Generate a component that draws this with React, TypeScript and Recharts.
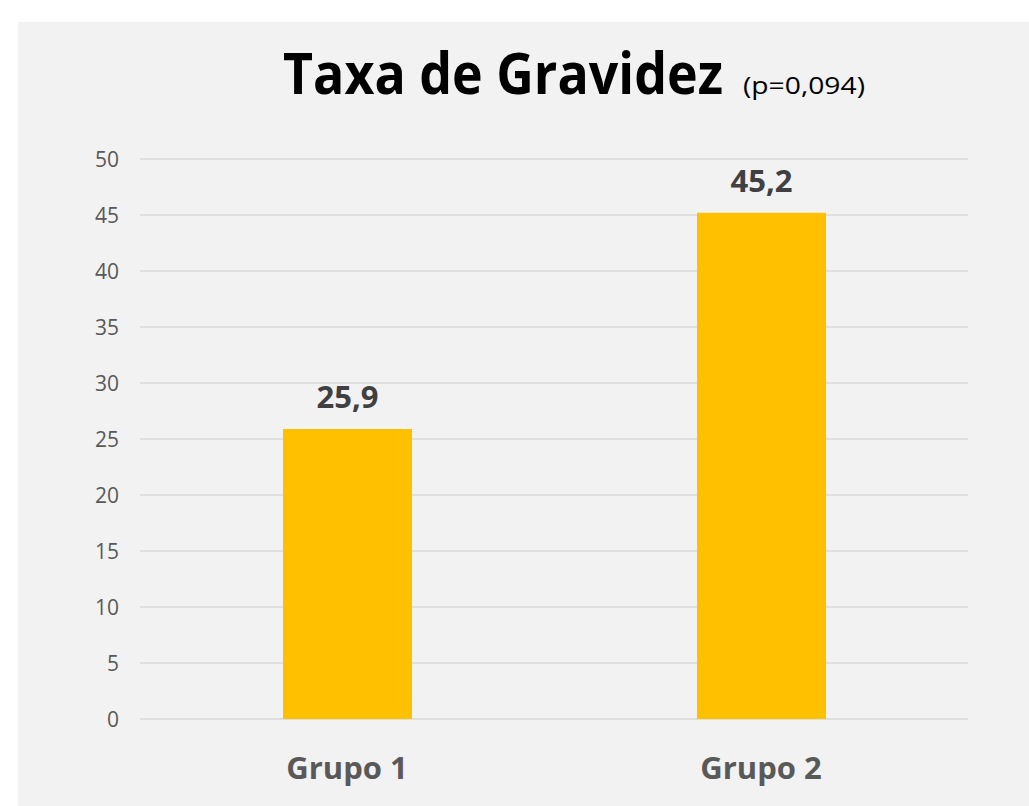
import React from "react";
import { BarChart, Bar, XAxis, YAxis, CartesianGrid, LabelList } from "recharts";

const categories = ["Grupo 1", "Grupo 2"];
const values = [25.9, 45.2];
const yTicks = [0, 5, 10, 15, 20, 25, 30, 35, 40, 45, 50];
const titleMain = "Taxa de Gravidez";
const titleSub = "(p=0,094)";

const data = categories.map((c, i) => ({ name: c, value: values[i] }));

const FONT = "'Open Sans', 'DejaVu Sans', sans-serif";

const XTick = (props: any) => {
  const { x, y, payload } = props;
  return (
    <text x={x} y={y + 60} textAnchor="middle" fontFamily={FONT} fontWeight={700} fontSize={31} fill="#595959">
      {payload.value}
    </text>
  );
};

const YTick = (props: any) => {
  const { x, y, payload } = props;
  return (
    <text x={x - 21} y={y} dy="0.36em" textAnchor="end" fontFamily={FONT} fontSize={21} fill="#595959">
      {payload.value}
    </text>
  );
};

export default function App() {
  return (
    <div style={{ position: "absolute", left: 18, top: 22, width: 1011, height: 784, background: "#f2f2f2" }}>
      <svg width={1011} height={110} style={{ position: "absolute", left: 0, top: 0 }}>
        <g transform="translate(265,72) scale(1,1.22)">
          <text x={0} y={0} fontFamily={FONT} fontWeight={700} fontSize={47} fill="#000" textLength={440} lengthAdjust="spacingAndGlyphs">
            {titleMain}
          </text>
        </g>
        <text x={725} y={72} fontFamily={FONT} fontSize={24} fill="#000" textLength={122} lengthAdjust="spacingAndGlyphs">
          {titleSub}
        </text>
      </svg>
      <div style={{ position: "absolute", left: 0, top: 0 }}>
        <BarChart width={1011} height={784} data={data} margin={{ top: 137, right: 61, bottom: 0, left: 0 }}>
          <CartesianGrid vertical={false} stroke="#d9d9d9" strokeWidth={1.5} />
          <XAxis dataKey="name" height={87} axisLine={false} tickLine={false} tickSize={0} tickMargin={0} tick={<XTick />} />
          <YAxis width={122} domain={[0, 50]} ticks={yTicks} axisLine={false} tickLine={false} tickSize={0} tickMargin={0} tick={<YTick />} interval={0} />
          <Bar dataKey="value" fill="#FFC000" barSize={129} isAnimationActive={false}>
            <LabelList
              dataKey="value"
              position="top"
              offset={21}
              formatter={(v: any) => String(v).replace(".", ",")}
              style={{ fontFamily: FONT, fontWeight: 700, fontSize: 31, fill: "#404040" }}
            />
          </Bar>
        </BarChart>
      </div>
    </div>
  );
}
